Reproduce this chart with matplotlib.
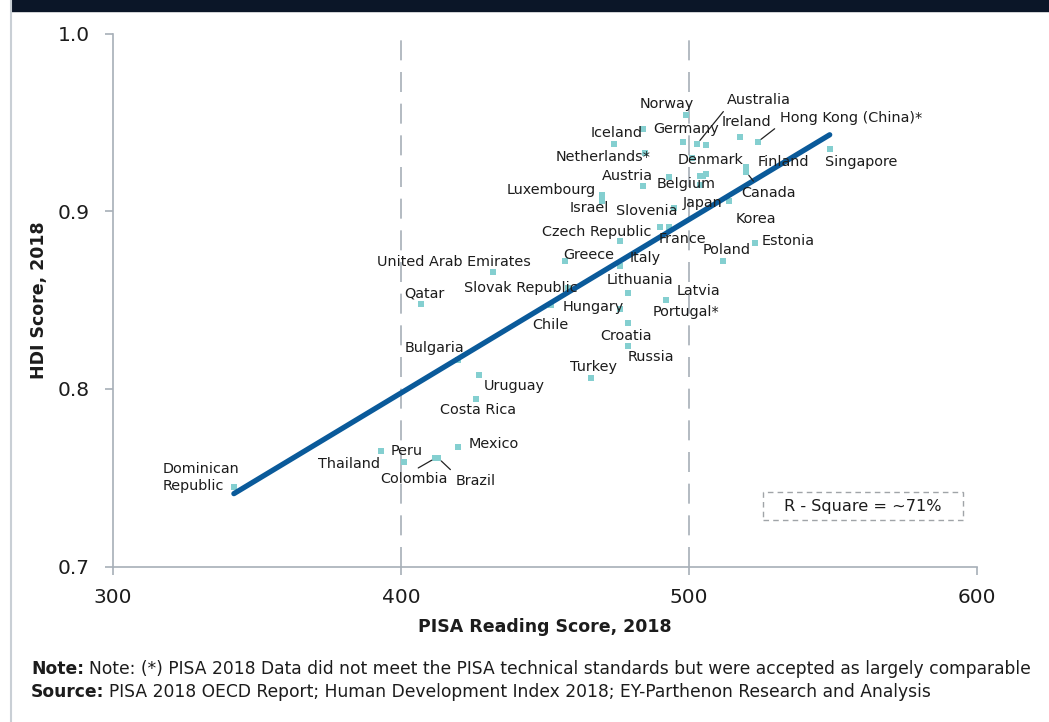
import matplotlib
matplotlib.use('Agg')
import matplotlib.pyplot as plt
from matplotlib.patches import Rectangle
from matplotlib.lines import Line2D

plt.rcParams['font.family'] = ['DejaVu Sans']

# data: PISA 2018 reading score vs HDI 2018
countries = ['Norway', 'Switzerland', 'Ireland', 'Germany', 'Hong Kong (China)*', 'Australia',
             'Iceland', 'Sweden', 'Singapore', 'Netherlands*', 'Denmark', 'Finland', 'Canada',
             'New Zealand', 'United Kingdom', 'United States', 'Belgium', 'Japan', 'Austria',
             'Luxembourg', 'Israel', 'Korea', 'Slovenia', 'Czech Republic', 'France', 'Italy',
             'Estonia', 'Greece', 'Poland', 'Lithuania', 'United Arab Emirates', 'Slovak Republic',
             'Latvia', 'Portugal*', 'Qatar', 'Chile', 'Hungary', 'Croatia', 'Russia', 'Bulgaria',
             'Uruguay', 'Turkey', 'Costa Rica', 'Mexico', 'Thailand', 'Peru', 'Brazil', 'Colombia',
             'Dominican\nRepublic']
pisa = [499, 484, 518, 498, 524, 503, 474, 506, 549, 485, 501, 520, 520, 506, 504, 505, 493, 504,
        484, 470, 470, 514, 495, 490, 493, 476, 523, 457, 512, 476, 432, 458, 479, 492, 407, 452,
        476, 479, 479, 420, 427, 466, 426, 420, 393, 401, 413, 412, 342]
hdi = [0.954, 0.946, 0.942, 0.939, 0.939, 0.938, 0.938, 0.937, 0.935, 0.933, 0.930, 0.925, 0.922,
       0.921, 0.920, 0.920, 0.919, 0.915, 0.914, 0.909, 0.906, 0.906, 0.902, 0.891, 0.891, 0.883,
       0.882, 0.872, 0.872, 0.869, 0.866, 0.857, 0.854, 0.850, 0.848, 0.847, 0.845, 0.837, 0.824,
       0.816, 0.808, 0.806, 0.794, 0.767, 0.765, 0.759, 0.761, 0.761, 0.745]
unlabeled = ['Switzerland', 'Sweden', 'New Zealand', 'United Kingdom', 'United States']

trend_x = [342, 549]
trend_y = [0.741, 0.943]
r_square = 'R - Square = ~71%'

# label offsets in pixels (dx right, dy up)
offsets = {
    'Norway': (-19, 11), 'Ireland': (6, 15), 'Germany': (3, 13),
    'Hong Kong (China)*': (93, 24), 'Australia': (62, 44), 'Iceland': (3, 11),
    'Singapore': (31, -13), 'Netherlands*': (-42, -4), 'Denmark': (19, -2),
    'Finland': (37, 5), 'Canada': (22, -21), 'Belgium': (18, -7), 'Japan': (2, -18),
    'Austria': (-15, 10), 'Luxembourg': (-51, 5), 'Israel': (-13, -7), 'Korea': (27, -18),
    'Slovenia': (-28, -3), 'Czech Republic': (-63, -5), 'France': (14, -12),
    'Italy': (26, -17), 'Estonia': (33, 2), 'Greece': (24, 6), 'Poland': (3, 11),
    'Lithuania': (20, -14), 'United Arab Emirates': (-39, 10), 'Slovak Republic': (-47, 0),
    'Latvia': (70, 2), 'Portugal*': (20, -12), 'Qatar': (3, 10), 'Chile': (0, -20),
    'Hungary': (-26, 2), 'Croatia': (-2, -13), 'Russia': (23, -11), 'Bulgaria': (-24, 12),
    'Uruguay': (36, -11), 'Turkey': (3, 11), 'Costa Rica': (2, -11), 'Mexico': (35, 3),
    'Thailand': (-32, -13), 'Peru': (3, 11), 'Brazil': (37, -23), 'Colombia': (-21, -21),
    'Dominican\nRepublic': (-33, 9),
}
# leader lines: where the line leaves the label box
leaders = {'Australia': (0, 0), 'Hong Kong (China)*': (0, 0), 'Canada': (0.3, 1),
           'Brazil': (0, 1), 'Colombia': (0.45, 1)}

W, H = 1049, 722
fig = plt.figure(figsize=(W / 100, H / 100), dpi=100)
ax = fig.add_axes([113 / W, 1 - 566.5 / H, 863.5 / W, 533 / H])

grey = '#a7afb8'
txt = '#1c1c1c'

ax.axvline(400, color=grey, lw=1.2, dashes=(12, 7), zorder=1)
ax.axvline(500, color=grey, lw=1.2, dashes=(12, 7), zorder=1)

ax.plot(trend_x, trend_y, color='#0a5a9a', lw=3.8, solid_capstyle='round', zorder=3)
ax.scatter(pisa, hdi, marker='s', s=24, color='#84cfd0', linewidths=0, zorder=2)

for name, x, y in zip(countries, pisa, hdi):
    if name in unlabeled:
        continue
    dx, dy = offsets[name]
    kw = {}
    if name in leaders:
        kw['arrowprops'] = dict(arrowstyle='-', color='#222222', lw=0.9,
                                relpos=leaders[name], shrinkA=2, shrinkB=3)
    ax.annotate(name, (x, y), xytext=(dx, dy), textcoords='offset pixels',
                ha='center', va='center', fontsize=10.4, color=txt,
                multialignment='left', linespacing=1.2, zorder=4, **kw)

ax.set_xlim(300, 600)
ax.set_ylim(0.7, 1.0)
ax.set_xticks([300, 400, 500, 600])
ax.set_yticks([0.7, 0.8, 0.9, 1.0])
ax.set_yticklabels(['0.7', '0.8', '0.9', '1.0'])
ax.tick_params(axis='both', colors=grey, labelcolor=txt, labelsize=14.5, length=5.5, width=1.2)
ax.tick_params(axis='x', pad=10)
ax.tick_params(axis='y', pad=11)
for s in ['top', 'right']:
    ax.spines[s].set_visible(False)
for s in ['left', 'bottom']:
    ax.spines[s].set_color(grey)
    ax.spines[s].set_linewidth(1.2)

ax.set_xlabel('PISA Reading Score, 2018', fontsize=12.5, fontweight='bold', color=txt, labelpad=8)
ax.set_ylabel('HDI Score, 2018', fontsize=12.5, fontweight='bold', color=txt, labelpad=7)

# r-square box
fig.patches.append(Rectangle((763 / W, 1 - 520 / H), 200 / W, 28 / H, transform=fig.transFigure,
                             fill=False, edgecolor='#a0a4a8', lw=1, linestyle=(0, (4, 3))))
fig.text(863 / W, 1 - 506 / H, r_square, ha='center', va='center', fontsize=11.6, color=txt)

# header bar and left border
fig.patches.append(Rectangle((11 / W, 1 - 11 / H), 1, 11 / H, transform=fig.transFigure,
                             color='#0b1628'))
fig.add_artist(Line2D([11 / W, 11 / W], [0, 1], color='#c9cfd5', lw=1.5))

# footnotes
t1 = fig.text(31 / W, 1 - 669 / H, 'Note:', fontsize=12.3, fontweight='bold', color=txt, va='center')
ax.annotate('Note: (*) PISA 2018 Data did not meet the PISA technical standards but were accepted as largely comparable',
            xy=(1, 0.5), xycoords=t1, xytext=(5, 0), textcoords='offset pixels',
            va='center', ha='left', fontsize=12.3, color=txt, annotation_clip=False)
t2 = fig.text(31 / W, 1 - 692 / H, 'Source:', fontsize=12.3, fontweight='bold', color=txt, va='center')
ax.annotate('PISA 2018 OECD Report; Human Development Index 2018; EY-Parthenon Research and Analysis',
            xy=(1, 0.5), xycoords=t2, xytext=(5, 0), textcoords='offset pixels',
            va='center', ha='left', fontsize=12.3, color=txt, annotation_clip=False)

fig.savefig('out.png', dpi=100)
